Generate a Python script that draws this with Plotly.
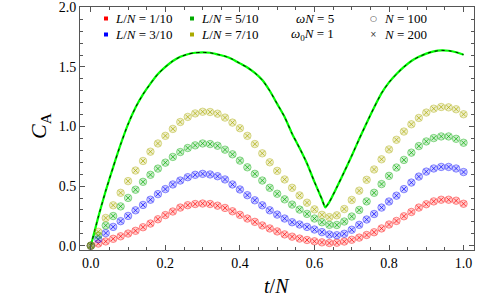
import plotly.graph_objects as go

# ---------------- data ----------------
t_pts = [0.00, 0.02, 0.04, 0.06, 0.08, 0.10, 0.12, 0.14, 0.16, 0.18,
         0.20, 0.22, 0.24, 0.26, 0.28, 0.30, 0.32, 0.34, 0.36, 0.38,
         0.40, 0.42, 0.44, 0.46, 0.48, 0.50, 0.52, 0.54, 0.56, 0.58,
         0.60, 0.62, 0.64, 0.66, 0.68, 0.70, 0.72, 0.74, 0.76, 0.78,
         0.80, 0.82, 0.84, 0.86, 0.88, 0.90, 0.92, 0.94, 0.96, 0.98, 1.00]

c_L1 = [0.000, 0.018, 0.036, 0.058, 0.079, 0.102, 0.125, 0.155, 0.186, 0.222,
        0.257, 0.287, 0.320, 0.340, 0.350, 0.354, 0.350, 0.336, 0.317, 0.289,
        0.259, 0.228, 0.200, 0.170, 0.145, 0.120, 0.095, 0.076, 0.060, 0.048,
        0.037, 0.028, 0.023, 0.025, 0.035, 0.050, 0.068, 0.090, 0.113, 0.145,
        0.178, 0.208, 0.247, 0.283, 0.320, 0.348, 0.372, 0.386, 0.386, 0.378, 0.352]

c_L3 = [0.000, 0.055, 0.106, 0.158, 0.206, 0.250, 0.297, 0.342, 0.386, 0.433,
        0.475, 0.514, 0.547, 0.575, 0.595, 0.603, 0.598, 0.583, 0.556, 0.514,
        0.472, 0.424, 0.381, 0.339, 0.297, 0.261, 0.228, 0.197, 0.178, 0.158,
        0.136, 0.114, 0.094, 0.088, 0.100, 0.134, 0.175, 0.220, 0.266, 0.320,
        0.371, 0.420, 0.475, 0.530, 0.580, 0.622, 0.648, 0.661, 0.661, 0.648, 0.618]

c_L5 = [0.000, 0.085, 0.170, 0.249, 0.330, 0.401, 0.470, 0.536, 0.595, 0.647,
        0.697, 0.745, 0.786, 0.820, 0.842, 0.858, 0.853, 0.839, 0.806, 0.767,
        0.714, 0.658, 0.603, 0.547, 0.486, 0.436, 0.389, 0.345, 0.303, 0.267,
        0.228, 0.197, 0.175, 0.174, 0.203, 0.245, 0.300, 0.372, 0.444, 0.517,
        0.586, 0.656, 0.720, 0.781, 0.836, 0.875, 0.903, 0.917, 0.917, 0.897, 0.864]

c_L7 = [0.000, 0.117, 0.233, 0.339, 0.444, 0.542, 0.631, 0.711, 0.789, 0.858,
        0.922, 0.980, 1.038, 1.081, 1.110, 1.124, 1.122, 1.108, 1.075, 1.033,
        0.986, 0.922, 0.853, 0.775, 0.700, 0.628, 0.556, 0.486, 0.422, 0.361,
        0.305, 0.259, 0.240, 0.255, 0.308, 0.384, 0.462, 0.553, 0.640, 0.725,
        0.808, 0.889, 0.958, 1.019, 1.072, 1.117, 1.150, 1.164, 1.161, 1.145, 1.103]

t_line = [0.00, 0.02, 0.04, 0.06, 0.08, 0.10, 0.12, 0.14, 0.16, 0.18,
          0.20, 0.22, 0.24, 0.26, 0.28, 0.30, 0.32, 0.34, 0.36, 0.38,
          0.40, 0.42, 0.44, 0.46, 0.48, 0.50, 0.52, 0.54, 0.56, 0.58,
          0.60, 0.62, 0.629, 0.64, 0.66, 0.68, 0.70, 0.72, 0.74, 0.76,
          0.78, 0.80, 0.82, 0.84, 0.86, 0.88, 0.90, 0.92, 0.94, 0.96, 0.98, 1.00]
c_line = [0.000, 0.240, 0.460, 0.660, 0.850, 1.020, 1.160, 1.270, 1.360, 1.440,
          1.500, 1.550, 1.585, 1.607, 1.619, 1.622, 1.619, 1.605, 1.590, 1.565,
          1.530, 1.495, 1.450, 1.390, 1.300, 1.190, 1.080, 0.940, 0.820, 0.690,
          0.535, 0.390, 0.322, 0.367, 0.490, 0.620, 0.755, 0.895, 1.030, 1.160,
          1.280, 1.370, 1.440, 1.500, 1.550, 1.585, 1.612, 1.630, 1.639, 1.636, 1.623, 1.603]

series_names = ["L/N = 1/10", "L/N = 3/10", "L/N = 5/10", "L/N = 7/10"]
series_vals = [c_L1, c_L3, c_L5, c_L7]
series_rgb = [(255, 0, 0), (0, 0, 255), (0, 170, 0), (170, 170, 0)]

x_ticks = [0.0, 0.2, 0.4, 0.6, 0.8, 1.0]
y_ticks = [0.0, 0.5, 1.0, 1.5, 2.0]

FONT = "'Liberation Serif', 'Times New Roman', serif"

fig = go.Figure()

# exact curve: green solid with black dashes
fig.add_trace(go.Scatter(x=t_line, y=c_line, mode="lines",
                         line=dict(color="#00ff00", width=2.2, shape="spline", smoothing=0.6),
                         showlegend=False, hoverinfo="skip"))
fig.add_trace(go.Scatter(x=t_line, y=c_line, mode="lines",
                         line=dict(color="black", width=1.0, dash="3px,4px", shape="spline", smoothing=0.6),
                         showlegend=False, hoverinfo="skip"))

for name, vals, (r, g, b) in zip(series_names, series_vals, series_rgb):
    # N = 100 (circles)
    fig.add_trace(go.Scatter(
        x=t_pts, y=vals, mode="markers", name=name + " (N=100)",
        marker=dict(symbol="circle", size=7.5,
                    color=f"rgba({r},{g},{b},0.2)",
                    line=dict(color=f"rgba({r},{g},{b},0.4)", width=1)),
        showlegend=False))
    # N = 200 (crosses)
    fig.add_trace(go.Scatter(
        x=t_pts, y=vals, mode="markers", name=name + " (N=200)",
        marker=dict(symbol="x-thin", size=4.5,
                    line=dict(color=f"rgba({r},{g},{b},0.7)", width=1)),
        showlegend=False))

# ---------------- legend and titles built from annotations ----------------
L, R, T, B = 80, 19, 7, 50
W, H = 493, 300
pw, ph = W - L - R, H - T - B


def px2paper(px, py):
    return (px - L) / pw, (H - B - py) / ph


legend_items = [
    (106, 113, 18.5, "<i>L</i>/<i>N</i> = 1/10", "rgb(255,0,0)"),
    (106, 113, 34.5, "<i>L</i>/<i>N</i> = 3/10", "rgb(0,0,255)"),
    (192, 199, 18.5, "<i>L</i>/<i>N</i> = 5/10", "rgb(0,170,0)"),
    (192, 199, 34.5, "<i>L</i>/<i>N</i> = 7/10", "rgb(170,170,0)"),
]
annotations = []
shapes = []
for sq, tx, row, label, col in legend_items:
    x0, y0 = px2paper(sq - 2, row + 2)
    x1, y1 = px2paper(sq + 2, row - 2)
    shapes.append(dict(type="rect", xref="paper", yref="paper",
                       x0=x0, y0=y0, x1=x1, y1=y1,
                       fillcolor=col, line=dict(width=0)))
    xa, ya = px2paper(tx, row)
    annotations.append(dict(xref="paper", yref="paper", x=xa, y=ya,
                            xanchor="left", yanchor="middle", showarrow=False,
                            text=label, font=dict(family=FONT, size=13, color="black")))

for row, label in [(18.5, "<i>ωN</i> = 5"), (34.5, "<i>ω</i><sub>0</sub><i>N</i> = 1")]:
    xa, ya = px2paper(336, row)
    annotations.append(dict(xref="paper", yref="paper", x=xa, y=ya,
                            xanchor="right", yanchor="middle", showarrow=False,
                            text=label, font=dict(family=FONT, size=13, color="black")))

for row, sym, label in [(18.5, "○", "<i>N</i> = 100"), (34.5, "×", "<i>N</i> = 200")]:
    xa, ya = px2paper(373, row)
    annotations.append(dict(xref="paper", yref="paper", x=xa, y=ya,
                            xanchor="center", yanchor="middle", showarrow=False,
                            text=sym, font=dict(family="DejaVu Sans", size=8, color="#333")))
    xa, ya = px2paper(382, row)
    annotations.append(dict(xref="paper", yref="paper", x=xa, y=ya,
                            xanchor="left", yanchor="middle", showarrow=False,
                            text=label, font=dict(family=FONT, size=13, color="black")))

# axis titles
xa, ya = px2paper(277, 286)
annotations.append(dict(xref="paper", yref="paper", x=xa, y=ya,
                        xanchor="center", yanchor="middle", showarrow=False,
                        text="<i>t</i>/<i>N</i>",
                        font=dict(family=FONT, size=20, color="black")))
xa, ya = px2paper(40, 126)
annotations.append(dict(xref="paper", yref="paper", x=xa, y=ya,
                        xanchor="center", yanchor="middle", showarrow=False,
                        textangle=-90, text="<i>C</i><sub>A</sub>",
                        font=dict(family=FONT, size=22, color="black")))

axis_common = dict(
    showgrid=False, zeroline=False, showline=True, linecolor="#555", linewidth=1,
    mirror="ticks", ticks="inside", ticklen=5, tickcolor="#555", tickwidth=1,
    tickfont=dict(family=FONT, size=14, color="black"), automargin=False,
)

fig.update_layout(
    width=W, height=H,
    margin=dict(l=L, r=R, t=T, b=B, autoexpand=False),
    plot_bgcolor="white", paper_bgcolor="white",
    showlegend=False,
    xaxis=dict(range=[-0.029, 1.028], tickvals=x_ticks,
               ticktext=[f"{v:.1f}" for v in x_ticks],
               minor=dict(ticks="inside", ticklen=3, dtick=0.05, tick0=0,
                          tickcolor="#555", showgrid=False),
               **axis_common),
    yaxis=dict(range=[-0.036, 2.003], tickvals=y_ticks,
               ticktext=[f"{v:.1f}" for v in y_ticks],
               minor=dict(ticks="inside", ticklen=3, dtick=0.1, tick0=0,
                          tickcolor="#555", showgrid=False),
               **axis_common),
    annotations=annotations,
    shapes=shapes,
)

fig.write_html("out.html",
               config={"displayModeBar": False},
               post_script="document.body.style.margin='0';"
                           "document.body.style.overflow='hidden';")
